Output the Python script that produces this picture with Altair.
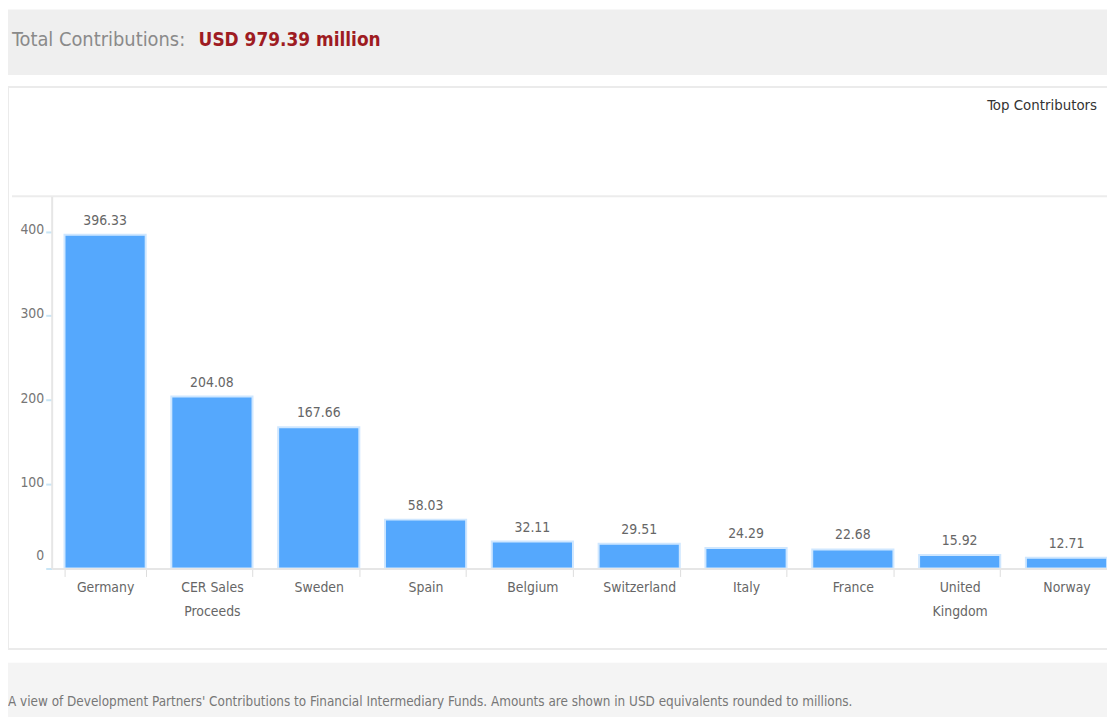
import altair as alt
import pandas as pd

categories = ["Germany", "CER Sales Proceeds", "Sweden", "Spain", "Belgium",
              "Switzerland", "Italy", "France", "United Kingdom", "Norway"]
values = [396.33, 204.08, 167.66, 58.03, 32.11, 29.51, 24.29, 22.68, 15.92, 12.71]
title_left = "Total Contributions:"
title_right = "USD 979.39 million"
panel_title = "Top Contributors"
footer_text = ("A view of Development Partners' Contributions to Financial Intermediary Funds. "
               "Amounts are shown in USD equivalents rounded to millions.")

FONT = "DejaVu Sans Condensed"

df = pd.DataFrame({"country": categories, "amount": values})
one = pd.DataFrame({"k": [0]})

# decorative backgrounds
header_bg = alt.Chart(one).mark_rect(color="#efefef").encode(
    x=alt.value(-45), x2=alt.value(1070), y=alt.value(-188), y2=alt.value(-122))
panel_bg = alt.Chart(one).mark_rect(fill="white", stroke="#ebebeb", strokeWidth=2).encode(
    x=alt.value(-44), x2=alt.value(1090), y=alt.value(-110), y2=alt.value(456))
top_line = alt.Chart(one).mark_rule(color="#ececec", strokeWidth=2).encode(
    x=alt.value(-40), x2=alt.value(1090), y=alt.value(0))
footer_bg = alt.Chart(one).mark_rect(color="#f4f4f4").encode(
    x=alt.value(-45), x2=alt.value(1070), y=alt.value(470), y2=alt.value(540))

t1 = alt.Chart(one).mark_text(text=title_left, font=FONT, fontSize=20, color="#8a8a8a",
                              align="left", baseline="middle").encode(
    x=alt.value(-40), y=alt.value(-157))
t2 = alt.Chart(one).mark_text(text=title_right, font=FONT, fontSize=19, color="#9e1b22",
                              fontWeight="bold", align="left", baseline="middle").encode(
    x=alt.value(148), y=alt.value(-157))
t3 = alt.Chart(one).mark_text(text=panel_title, font=FONT, fontSize=15, color="#333333",
                              align="right", baseline="middle").encode(
    x=alt.value(1053), y=alt.value(-92))
t4 = alt.Chart(one).mark_text(text=footer_text, font=FONT, fontSize=13.5, color="#777777",
                              align="left", baseline="middle").encode(
    x=alt.value(-44), y=alt.value(509))

xenc = alt.X("country:N", sort=categories,
             scale=alt.Scale(range=[0, 1076], paddingInner=0.24, paddingOuter=0.12),
             axis=alt.Axis(title=None, labelAngle=0, labelFont=FONT, labelFontSize=14,
                           labelColor="#666666", labelPadding=4, labelLineHeight=24,
                           labelExpr="datum.label == 'CER Sales Proceeds' ? ['CER Sales', 'Proceeds'] : datum.label == 'United Kingdom' ? ['United', 'Kingdom'] : datum.label",
                           domainColor="#e6e6e6", domainWidth=2, tickColor="#dddddd",
                           tickSize=8, tickWidth=1, tickBand="extent", zindex=1))
yenc = alt.Y("amount:Q", scale=alt.Scale(domain=[0, 442], nice=False),
             axis=alt.Axis(title=None, values=[0, 100, 200, 300, 400], grid=False,
                           labelFont=FONT, labelFontSize=14, labelColor="#777777",
                           labelPadding=2, tickColor="#c9e5f5", tickSize=6, tickWidth=2,
                           labelOffset={"condition": {"test": "datum.value == 0", "value": -13},
                                        "value": -2},
                           domainColor="#e6e6e6", domainWidth=2, zindex=1))

bars = alt.Chart(df).mark_bar(color="#55a8fd", stroke="#cfe7ff", strokeWidth=2).encode(
    x=xenc, y=yenc)
labels = alt.Chart(df).mark_text(font=FONT, fontSize=14, color="#666666",
                                 baseline="bottom", dy=-7).encode(
    x=alt.X("country:N", sort=categories), y="amount:Q",
    text=alt.Text("amount:Q", format=".2f"))

chart = alt.layer(header_bg, panel_bg, top_line, footer_bg, bars, labels, t1, t2, t3, t4).properties(
    width=1063, height=375,
    autosize=alt.AutoSizeParams(type="none"),
    padding={"left": 44, "top": 187, "right": 0, "bottom": 147},
).configure_view(stroke=None)

chart.save("out.html", embed_options={"renderer": "svg", "actions": False})
